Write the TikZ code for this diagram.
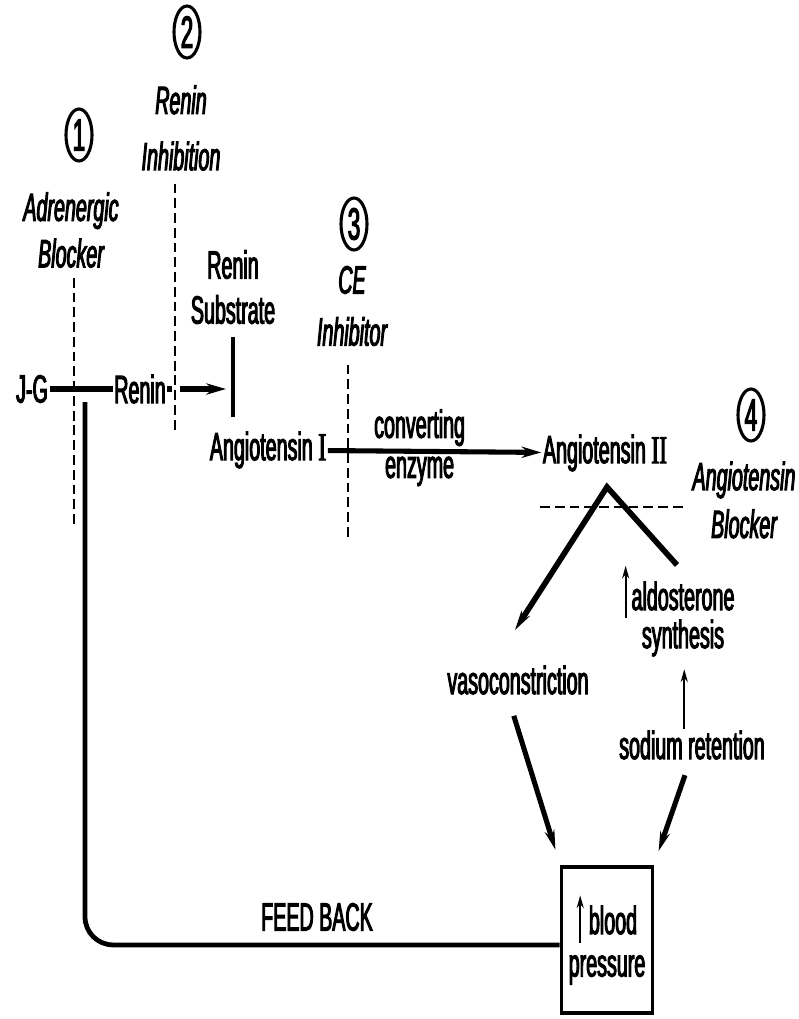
\documentclass[tikz,border=0pt]{standalone}
\usepackage{fontspec}
\setmainfont[FakeStretch=0.5, FakeBold=2.5]{Liberation Sans}
\newfontfamily\numfont[FakeStretch=0.6, FakeBold=2.5]{Liberation Serif}
\usepackage{tikz}
\usetikzlibrary{arrows.meta, shapes.geometric}
\newcommand{\lblfont}{\fontsize{28}{33}\selectfont}
\newcommand{\numsize}{\fontsize{32}{32}\selectfont}

\begin{document}
\begin{tikzpicture}[x=0.025cm, y=-0.025cm,
        txt/.style={font=\lblfont, inner sep=1pt, align=center},
        blocker/.style={font=\lblfont\itshape, inner sep=1pt, align=center},
        numcirc/.style={ellipse, draw, line width=2.2pt, minimum width=0.65cm,
                        minimum height=1.3cm, inner sep=-3pt, font=\numsize},
        bar/.style={line width=3.6pt},
        bararrow/.style={line width=3.6pt, -{Stealth[length=14pt, width=8pt]}},
        diagarrow/.style={line width=3.6pt, -{Stealth[length=14pt, width=7pt]}},
        blockline/.style={line width=2pt, dash pattern=on 7pt off 3.5pt},
        thinarrow/.style={line width=1.6pt, -{Stealth[length=9pt, width=5pt]}}]
        \useasboundingbox (0,0) rectangle (798,1019);

        % Blocking sites
        \node[numcirc] (n1) at (79,135)  {1};
        \node[blocker] (adrblk) at (71,230) {Adrenergic\\Blocker};
        \node[numcirc] (n2) at (187,32)  {2};
        \node[blocker, font=\fontsize{28}{40}\selectfont\itshape] (reninh) at (181,128) {Renin\\Inhibition};
        \node[numcirc] (n3) at (354,224) {3};
        \node[blocker, font=\fontsize{28}{37}\selectfont\itshape] (ceinh) at (352,306) {CE\\Inhibitor};
        \node[numcirc] (n4) at (751,415) {4};
        \node[blocker, font=\fontsize{28}{34}\selectfont\itshape] (angblk) at (744,500) {Angiotensin\\Blocker};

        % Cascade
        \node[txt] (jg)     at (32,389)  {J-G};
        \node[txt] (renin)  at (140,389) {Renin};
        \node[txt, font=\fontsize{28}{32}\selectfont] (subs) at (233,287) {Renin\\Substrate};
        \node[txt] (ang1)   at (268,450) {Angiotensin {\numfont I}};
        \node[txt] (ang2)   at (605,453) {Angiotensin {\numfont II}};
        \node[txt] (vaso)   at (518,680) {vasoconstriction};
        \node[txt] (aldo)   at (683,596) {aldosterone};
        \node[txt] (synth)  at (683,638) {synthesis};
        \node[txt] (sodium) at (692,745) {sodium retention};

        % Blood pressure box
        \node[draw, line width=2.5pt, minimum width=2.28cm, minimum height=3.65cm] (bp) at (607,940) {};
        \node[txt] (blood) at (613,920) {blood};
        \node[txt] (press) at (607,970) {pressure};
        \node[txt] (fb) at (317,917) {FEED BACK};

        % Free ends
        \coordinate (d1end) at (74,527);
        \coordinate (d2end) at (175,430);
        \coordinate (d3end) at (348,540);
        \coordinate (d4w) at (540,507);
        \coordinate (d4e) at (684,507);
        \coordinate (subend) at (233,417);
        \coordinate (apex) at (607,487);
        \coordinate (vasotip) at (515,630);
        \coordinate (aldotop) at (677,565);
        \coordinate (fbtop) at (85,402);

        % Main path
        \draw[bar] (jg) -- (renin);
        \draw[bararrow, dash pattern=on 3.5pt off 5.5pt on 60pt, shorten >=5pt] (renin) -- (renin -| subs);
        \draw[line width=2.2pt] ([yshift=-8pt]subs.south) -- (subend);
        \draw[bararrow] (ang1) -- (ang2)
            node[pos=0.43, above=1pt, txt] {converting}
            node[pos=0.43, below=1pt, txt] {enzyme};

        % Blocks
        \draw[blockline] ([yshift=-6pt]adrblk.south -| d1end) -- (d1end);
        \draw[blockline] ([yshift=-8pt]reninh.south -| d2end) -- (d2end);
        \draw[blockline] ([yshift=-12pt]ceinh.south -| d3end) -- (d3end);
        \draw[blockline] (d4w) -- (d4e);

        % Effects of Angiotensin II
        \draw[line width=4pt, {Stealth[length=14pt, width=7pt]}-, line join=miter] (vasotip) -- (apex) -- (aldotop);
        \draw[thinarrow] ([xshift=-3pt, yshift=-4pt]aldo.south west) -- ([xshift=-3pt, yshift=10pt]aldo.north west);
        \draw[thinarrow] ([xshift=-5.5pt]sodium.north) -- ([xshift=-5.5pt, yshift=-8pt]sodium.north |- synth.south);
        \draw[diagarrow] ([xshift=-3pt, yshift=-14pt]vaso.south) -- ([xshift=-3pt, yshift=11pt]bp.north west);
        \draw[diagarrow] ([xshift=-5pt, yshift=-10pt]sodium.south) -- ([xshift=3pt, yshift=10pt]bp.north east);
        \draw[thinarrow] ([xshift=-5pt, yshift=-5pt]blood.south west) -- ([xshift=-5pt, yshift=6pt]blood.north west);

        % Feedback
        \draw[line width=3.4pt, rounded corners=20pt] ([yshift=-3.5pt]bp.west) -| (fbtop);
      \end{tikzpicture}
\end{document}
